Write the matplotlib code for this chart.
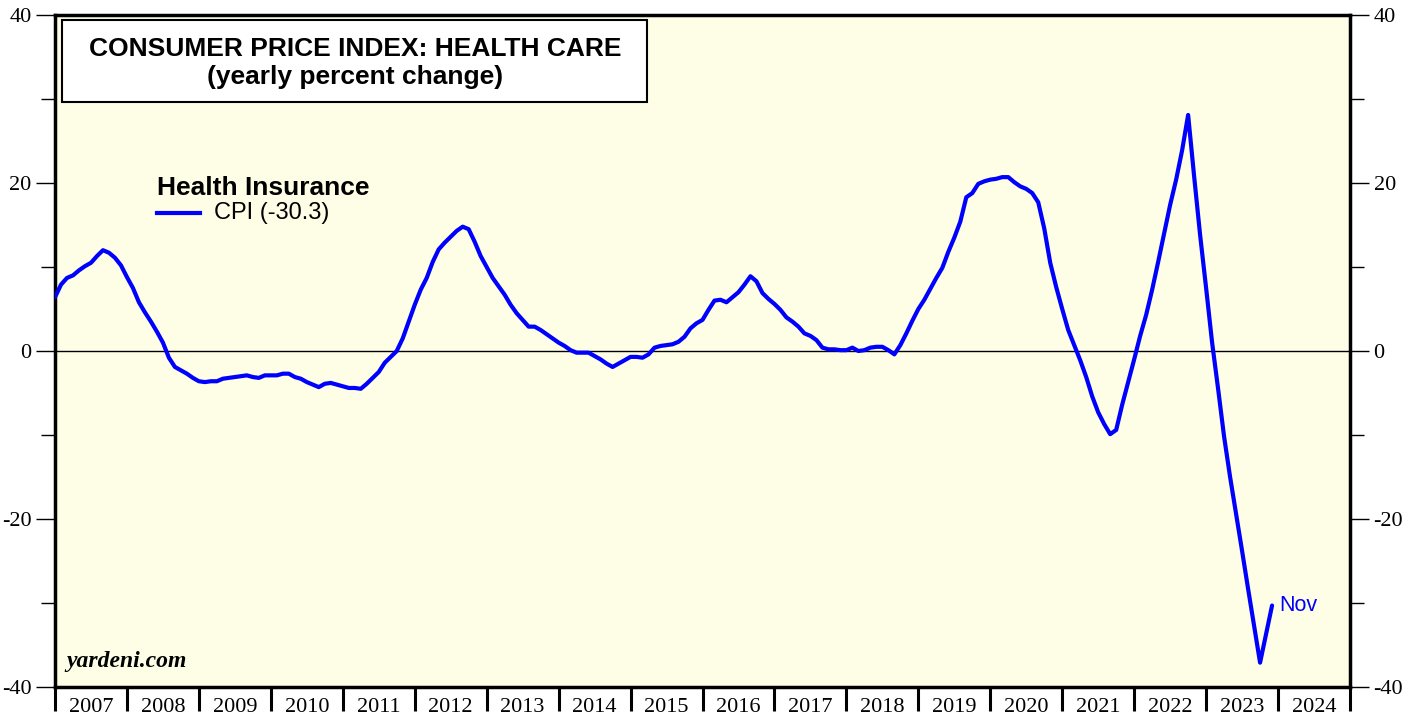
import numpy as np
import matplotlib
matplotlib.use("Agg")
import matplotlib.pyplot as plt
from matplotlib import font_manager
from matplotlib.ticker import MultipleLocator, FixedLocator, NullFormatter
from matplotlib.patches import Rectangle

# health insurance CPI, yearly % change, monthly from early 2007 to Nov 2023
cpi = [6.4, 7.9, 8.7, 9.0, 9.6, 10.1, 10.5, 11.3, 12.0, 11.7, 11.1, 10.2,
       8.8, 7.5, 5.8, 4.6, 3.5, 2.3, 1.0, -0.8, -1.9, -2.3, -2.7, -3.2,
       -3.6, -3.7, -3.6, -3.6, -3.3, -3.2, -3.1, -3.0, -2.9, -3.1, -3.2, -2.9,
       -2.9, -2.9, -2.7, -2.7, -3.1, -3.3, -3.7, -4.0, -4.3, -3.9, -3.8, -4.0,
       -4.2, -4.4, -4.4, -4.5, -3.9, -3.2, -2.5, -1.4, -0.7, 0.0, 1.5, 3.5,
       5.5, 7.3, 8.7, 10.6, 12.1, 12.9, 13.6, 14.3, 14.8, 14.5, 13.0, 11.3,
       10.0, 8.7, 7.7, 6.7, 5.5, 4.5, 3.7, 2.9, 2.9, 2.5, 2.0, 1.5,
       1.0, 0.6, 0.1, -0.2, -0.2, -0.2, -0.6, -1.0, -1.5, -1.9, -1.5, -1.1,
       -0.7, -0.7, -0.8, -0.4, 0.4, 0.6, 0.7, 0.8, 1.1, 1.7, 2.7, 3.3,
       3.7, 4.9, 6.0, 6.1, 5.8, 6.4, 7.0, 7.9, 8.9, 8.3, 6.9, 6.2,
       5.6, 4.9, 4.0, 3.5, 2.9, 2.1, 1.8, 1.3, 0.4, 0.2, 0.2, 0.1,
       0.1, 0.4, 0.0, 0.1, 0.4, 0.5, 0.5, 0.1, -0.4, 0.7, 2.1, 3.6,
       5.0, 6.1, 7.4, 8.7, 9.9, 11.8, 13.5, 15.4, 18.3, 18.8, 19.9, 20.2,
       20.4, 20.5, 20.7, 20.7, 20.1, 19.6, 19.3, 18.8, 17.7, 14.6, 10.5, 7.6,
       5.0, 2.5, 0.7, -1.1, -3.1, -5.4, -7.3, -8.7, -9.9, -9.4, -6.4, -3.7,
       -1.0, 1.8, 4.3, 7.3, 10.6, 14.0, 17.4, 20.4, 23.9, 28.1, 20.8, 13.8,
       7.5, 1.0, -4.5, -10.2, -15.0, -19.4, -23.8, -28.3, -32.7, -37.1, -33.7, -30.3]
years = list(range(2007, 2025))

x = 2007 + np.arange(len(cpi)) / 12.0

plt.rcParams["axes.unicode_minus"] = False


def find_font(fname, fallback):
    for f in font_manager.findSystemFonts():
        if f.endswith(fname):
            return font_manager.FontProperties(fname=f)
    return font_manager.FontProperties(family=fallback)


sans_reg = find_font("LiberationSans-Regular.ttf", "Liberation Sans")
sans_bold = find_font("LiberationSans-Bold.ttf", "Liberation Sans")
serif_reg = find_font("LiberationSerif-Regular.ttf", "Liberation Serif")
serif_bi = find_font("LiberationSerif-BoldItalic.ttf", "Liberation Serif")

fig = plt.figure(figsize=(14.17, 7.19), dpi=100)
ax = fig.add_axes([55/1417, 1 - 687/719, (1350-55)/1417, (687-15)/719])
ax.set_facecolor("#fefee6")

ax.axhline(0, color="black", lw=1.0, zorder=1)
ax.plot(x, cpi, color="#0000ff", lw=3.0, solid_joinstyle="round",
        solid_capstyle="round", zorder=3)

ax.set_xlim(2007, 2025)
ax.set_ylim(-40, 40)

for s in ax.spines.values():
    s.set_linewidth(2.5)

# x axis: boundaries as ticks, year labels centred between them
ax.xaxis.set_major_locator(FixedLocator(years + [2025]))
ax.xaxis.set_major_formatter(NullFormatter())
ax.xaxis.set_minor_locator(FixedLocator([y + 0.5 for y in years]))
ax.set_xticklabels([str(y) for y in years], minor=True)
ax.tick_params(axis="x", which="major", direction="out", length=17, width=2.2, color="black")
ax.tick_params(axis="x", which="minor", length=0, pad=8)

ax.yaxis.set_major_locator(MultipleLocator(20))
ax.yaxis.set_minor_locator(MultipleLocator(10))
ax.tick_params(axis="y", which="both", direction="out", left=True, right=True,
               labelleft=True, labelright=True, width=1.0)
ax.tick_params(axis="y", which="major", length=14, pad=3)
ax.tick_params(axis="y", which="minor", length=10)

fig.canvas.draw()
for t in ax.yaxis.get_major_ticks():
    t.label1.set_fontproperties(serif_reg)
    t.label1.set_fontsize(16)
    t.label2.set_fontproperties(serif_reg)
    t.label2.set_fontsize(16)
for t in ax.xaxis.get_minor_ticks():
    t.label1.set_fontproperties(serif_reg)
    t.label1.set_fontsize(16)

# title box
ax.add_patch(Rectangle((0.0055, 0.871), 0.452, 0.122, transform=ax.transAxes,
                       facecolor="white", edgecolor="black", lw=1.5, zorder=4))
ax.text(0.2315, 0.949, "CONSUMER PRICE INDEX: HEALTH CARE", transform=ax.transAxes,
        ha="center", va="center", fontproperties=sans_bold, fontsize=19, zorder=5)
ax.text(0.2315, 0.907, "(yearly percent change)", transform=ax.transAxes,
        ha="center", va="center", fontproperties=sans_bold, fontsize=19, zorder=5)

# legend
ax.text(0.079, 0.743, "Health Insurance", transform=ax.transAxes, ha="left", va="center",
        fontproperties=sans_bold, fontsize=19)
ax.plot([0.079, 0.112], [0.705, 0.705], transform=ax.transAxes, color="#0000ff", lw=3.0)
ax.text(0.123, 0.705, "CPI (-30.3)", transform=ax.transAxes, ha="left", va="center",
        fontproperties=sans_reg, fontsize=17)

ax.text(x[-1] + 0.1, cpi[-1], "Nov", color="#0000ff", ha="left", va="center",
        fontproperties=sans_reg, fontsize=15.5)

ax.text(0.009, 0.022, "yardeni.com", transform=ax.transAxes, ha="left", va="bottom",
        fontproperties=serif_bi, fontsize=17)

fig.savefig("out.png", dpi=100)
